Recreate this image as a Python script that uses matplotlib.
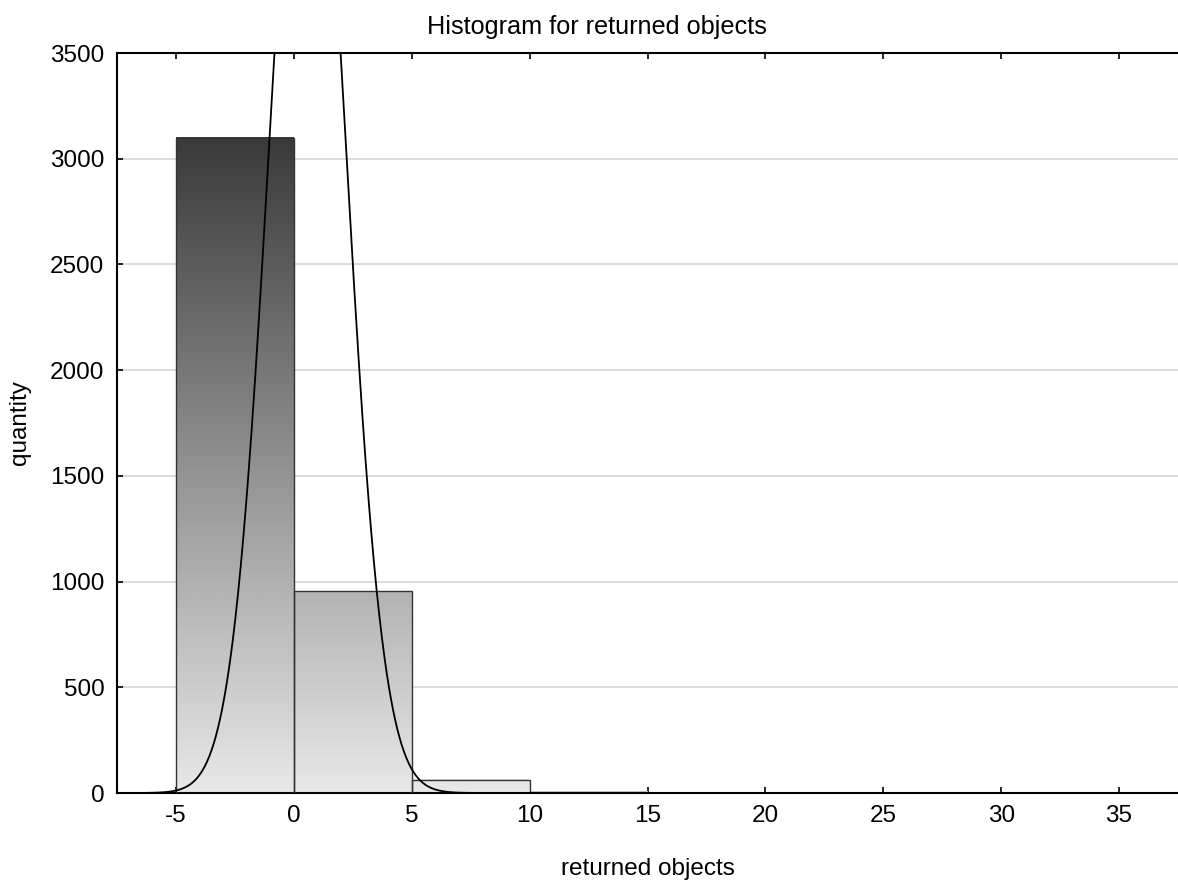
import matplotlib
matplotlib.use("Agg")
import matplotlib.pyplot as plt
from matplotlib.colors import LinearSegmentedColormap
import numpy as np

plt.rcParams['font.family'] = ['Liberation Sans', 'DejaVu Sans']
plt.rcParams['axes.unicode_minus'] = False

# histogram data
bin_left = [-5, 0, 5, 10]
bin_width = 5
counts = [3100, 955, 62, 7]

# fitted normal curve
fit_mean = 0.58
fit_sd = 1.6

y_ticks = [0, 500, 1000, 1500, 2000, 2500, 3000, 3500]
x_ticks = [-5, 0, 5, 10, 15, 20, 25, 30, 35]


def main():
    fig = plt.figure(figsize=(11.78, 8.81), dpi=100)
    ax = fig.add_axes([117 / 1178, 88 / 881, 1061 / 1178, 740 / 881])

    cmap = LinearSegmentedColormap.from_list("bargrad", ["#e8e8e8", "#3a3a3a"])
    vmax = max(counts)

    # gradient fill (shared scale over the whole axis height)
    for x0, h in zip(bin_left, counts):
        grad = np.linspace(0, h, 200).reshape(-1, 1)
        ax.imshow(grad, extent=[x0, x0 + bin_width, 0, h], origin="lower",
                  cmap=cmap, vmin=0, vmax=vmax, aspect="auto", zorder=2,
                  interpolation="bilinear")
    ax.bar(bin_left, counts, width=bin_width, align="edge", fill=False,
           edgecolor="#333333", linewidth=1.0, zorder=3)

    # normal fit
    xs = np.linspace(-7.5, 37.5, 2000)
    n_total = sum(counts)
    ys = n_total * bin_width / (fit_sd * np.sqrt(2 * np.pi)) * \
        np.exp(-(xs - fit_mean) ** 2 / (2 * fit_sd ** 2))
    ax.plot(xs, ys, color="black", linewidth=1.3, zorder=4)

    ax.set_xlim(-7.5, 37.5)
    ax.set_ylim(0, 3500)
    ax.set_xticks(x_ticks)
    ax.set_yticks(y_ticks)

    for y in y_ticks[1:-1]:
        ax.axhline(y, color="#d9d9d9", linewidth=1.3, zorder=1)

    for side in ["left", "bottom", "top"]:
        ax.spines[side].set_linewidth(1.5)
    ax.spines["right"].set_visible(False)
    ax.tick_params(direction="in", length=4, width=1.2, labelsize=17.5,
                   top=True, pad=9)

    # title is centred on the figure, not on the axes
    fig.text(597 / 1178, 1 - 27 / 881, "Histogram for returned objects",
             fontsize=18.2, ha="center", va="center")
    ax.set_xlabel("returned objects", fontsize=17.5, labelpad=22)
    ax.set_ylabel("quantity", fontsize=17.5, labelpad=14)

    fig.savefig("out.png", dpi=100)


if __name__ == '__main__':
    main()
